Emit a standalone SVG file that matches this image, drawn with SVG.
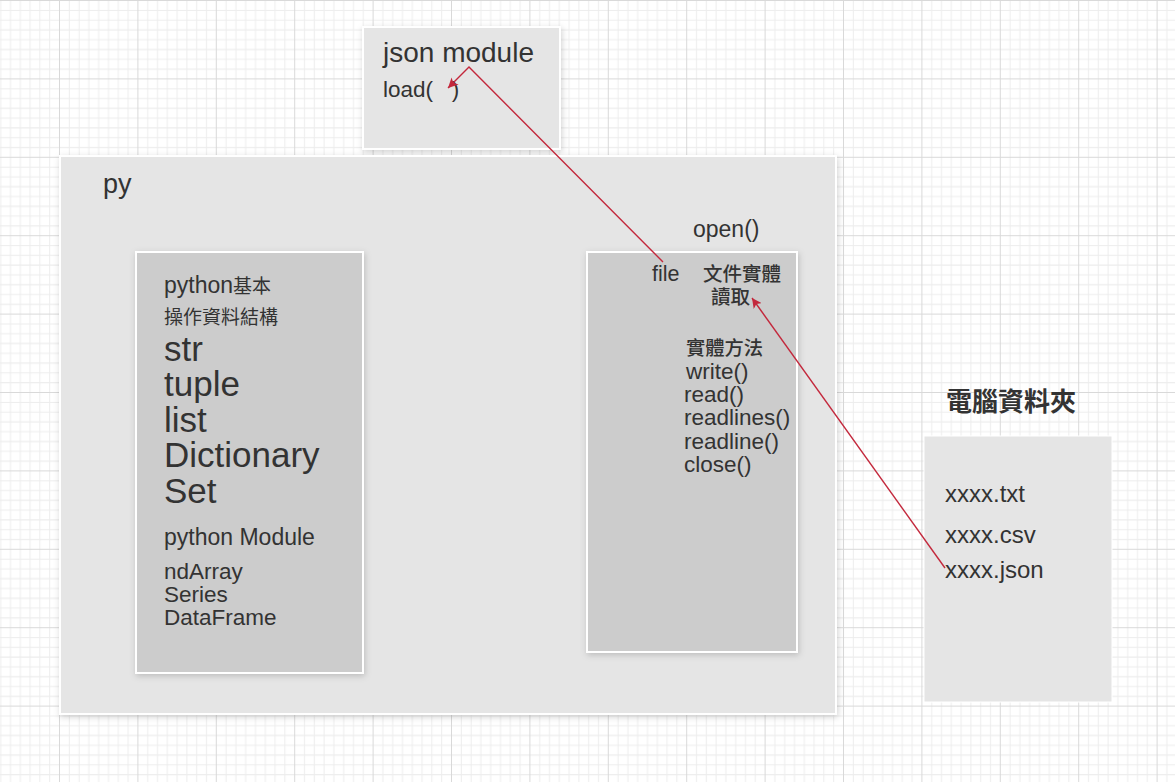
<svg xmlns="http://www.w3.org/2000/svg" width="1175" height="782" viewBox="0 0 1175 782">
<style>
.t{font-family:"Liberation Sans","Noto Sans CJK TC",Arial,sans-serif;fill:#333;}
.cjk{font-family:"Noto Sans CJK TC","Liberation Sans",sans-serif;fill:#333;}
.outer{fill:#e5e5e5;stroke:#fff;stroke-width:2;}
.inner{fill:#cccccc;stroke:#fff;stroke-width:2;}
.conn{fill:none;stroke:#c3283c;stroke-width:1.4;}
</style>
<defs>
<pattern id="grid" x="59" y="0" width="78.4" height="78.4" patternUnits="userSpaceOnUse">
<path d="M10.3 0V78.4M20.1 0V78.4M29.9 0V78.4M39.7 0V78.4M49.5 0V78.4M59.3 0V78.4M69.1 0V78.4M0 10.3H78.4M0 20.1H78.4M0 29.9H78.4M0 39.7H78.4M0 49.5H78.4M0 59.3H78.4M0 69.1H78.4" stroke="#ededed" stroke-width="1" fill="none"/>
<path d="M0.5 0V78.4M0 0.5H78.4" stroke="#d9d9d9" stroke-width="1" fill="none"/>
</pattern>
<filter id="sh" x="-10%" y="-10%" width="120%" height="120%">
<feDropShadow dx="1" dy="2" stdDeviation="3" flood-color="#000" flood-opacity="0.18"/>
</filter>
<marker id="ah" viewBox="0 0 10 10" refX="10" refY="5" markerWidth="10" markerHeight="10" markerUnits="userSpaceOnUse" orient="auto">
<path d="M0 0L10 5L0 10L2.5 5Z" fill="#c3283c"/>
</marker>
</defs>
<rect width="1175" height="782" fill="#fff"/>
<rect width="1175" height="782" fill="url(#grid)"/>

<g id="json-module">
<rect class="outer" x="363" y="27" width="197" height="122" filter="url(#sh)"/>
<text class="t" x="383" y="62" font-size="28">json module</text>
<text class="t" x="383" y="97" font-size="22.5" xml:space="preserve">load(   )</text>
</g>

<g id="py">
<rect class="outer" x="60" y="156" width="776" height="558" filter="url(#sh)"/>
<text class="t" x="103" y="193" font-size="27">py</text>
<text class="t" x="693" y="237" font-size="23">open()</text>
</g>

<g id="data-structures">
<rect class="inner" x="136" y="252" width="227" height="421" filter="url(#sh)"/>
<text class="t" x="164" y="293" font-size="23">python<tspan class="cjk" font-size="19">基本</tspan></text>
<text class="cjk" x="164" y="324" font-size="19">操作資料結構</text>
<text class="t" x="164" y="361" font-size="35">str</text>
<text class="t" x="164" y="396" font-size="35">tuple</text>
<text class="t" x="164" y="432" font-size="35">list</text>
<text class="t" x="164" y="467" font-size="35">Dictionary</text>
<text class="t" x="164" y="503" font-size="35">Set</text>
<text class="t" x="164" y="545" font-size="23">python Module</text>
<text class="t" x="164" y="579" font-size="22.5">ndArray</text>
<text class="t" x="164" y="602" font-size="22.5">Series</text>
<text class="t" x="164" y="625" font-size="22.5">DataFrame</text>
</g>

<g id="file-object">
<rect class="inner" x="587" y="252" width="210" height="400" filter="url(#sh)"/>
<text class="t" x="652" y="281" font-size="21.5">file</text>
<text class="cjk" x="703" y="281" font-size="19.5" font-weight="500">文件實體</text>
<text class="cjk" x="711" y="304" font-size="19.5" font-weight="500">讀取</text>
<text class="cjk" x="686" y="355" font-size="19.3" font-weight="500">實體方法</text>
<text class="t" x="686" y="379" font-size="22.5">write()</text>
<text class="t" x="684" y="402" font-size="22.5">read()</text>
<text class="t" x="684" y="425" font-size="22.5">readlines()</text>
<text class="t" x="684" y="449" font-size="22.5">readline()</text>
<text class="t" x="684" y="472" font-size="22.5">close()</text>
</g>

<g id="folder">
<text class="cjk" x="946" y="411" font-size="26" font-weight="bold">電腦資料夾</text>
<rect x="924" y="436" width="188" height="266" fill="#e5e5e5" stroke="#fff" stroke-width="1"/>
<text class="t" x="945" y="502" font-size="24">xxxx.txt</text>
<text class="t" x="945" y="543" font-size="24">xxxx.csv</text>
<text class="t" x="945" y="578" font-size="24">xxxx.json</text>
</g>

<g id="connectors">
<polyline class="conn" points="663,262 469,67 448,88" marker-end="url(#ah)"/>
<line class="conn" x1="945" y1="568" x2="752" y2="298" marker-end="url(#ah)"/>
</g>
</svg>
